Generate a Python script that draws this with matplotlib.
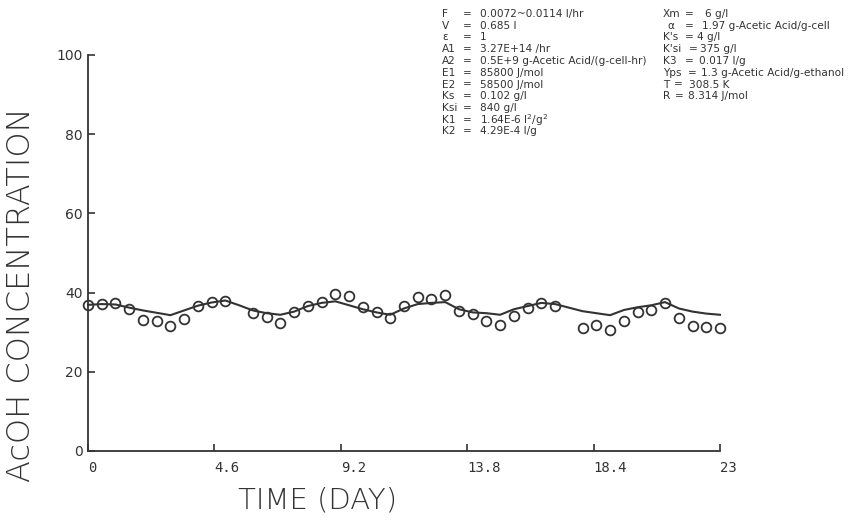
import matplotlib
matplotlib.use("Agg")
import matplotlib.pyplot as plt
import numpy as np

# measured AcOH concentration (g/l) every half day, gaps at 5.5 and 17.5
obs_time = [0, 0.5, 1, 1.5, 2, 2.5, 3, 3.5, 4, 4.5, 5,
            6, 6.5, 7, 7.5, 8, 8.5, 9, 9.5, 10, 10.5, 11, 11.5,
            12, 12.5, 13, 13.5, 14, 14.5, 15, 15.5, 16, 16.5, 17,
            18, 18.5, 19, 19.5, 20, 20.5, 21, 21.5, 22, 22.5, 23]
obs_conc = [36.9, 37.1, 37.3, 35.8, 33.1, 32.9, 31.6, 33.3, 36.7, 37.6, 38.0,
            34.9, 33.9, 32.2, 35.0, 36.7, 37.7, 39.6, 39.1, 36.3, 35.0, 33.7, 36.6,
            39.0, 38.3, 39.4, 35.4, 34.5, 32.8, 31.8, 34.1, 36.0, 37.3, 36.7,
            31.0, 31.8, 30.6, 32.8, 35.0, 35.6, 37.3, 33.7, 31.6, 31.4, 31.0]

# simulated curve
sim_time = [0, 0.5, 1, 1.5, 2, 2.5, 3, 3.5, 4, 4.5, 5, 5.5, 6, 6.5, 7, 7.5,
            8, 8.5, 9, 9.5, 10, 10.5, 11, 11.5, 12, 12.5, 13, 13.5, 14, 14.5,
            15, 15.5, 16, 16.5, 17, 17.5, 18, 18.5, 19, 19.5, 20, 20.5, 21,
            21.5, 22, 22.5, 23]
sim_conc = [36.9, 37.1, 37.0, 36.2, 35.5, 34.9, 34.3, 35.5, 36.7, 37.5, 38.0,
            36.8, 35.5, 34.8, 34.4, 35.2, 36.6, 37.4, 37.8, 36.8, 35.8, 35.0,
            34.4, 36.0, 37.1, 37.4, 37.6, 35.8, 35.0, 34.8, 34.4, 35.8, 36.6,
            37.4, 37.1, 36.2, 35.3, 34.8, 34.3, 35.6, 36.3, 36.8, 37.6, 36.0,
            35.2, 34.7, 34.4]

x_ticks = [0, 4.6, 9.2, 13.8, 18.4, 23]
x_ticklabels = ["0", "4.6", "9.2", "13.8", "18.4", "23"]
y_ticks = [0, 20, 40, 60, 80, 100]

left_labels = ["F", "V", "\u03b5", "A1", "A2", "E1", "E2", "Ks", "Ksi", "K1", "K2"]
left_values = ["0.0072~0.0114 l/hr", "0.685 l", "1", "3.27E+14 /hr",
               "0.5E+9 g-Acetic Acid/(g-cell-hr)", "85800 J/mol", "58500 J/mol",
               "0.102 g/l", "840 g/l", "1.64E-6 l$^2$/g$^2$", "4.29E-4 l/g"]
right_labels = ["Xm", "\u03b1", "K's", "K'si", "K3", "Yps", "T", "R"]
right_values = ["6 g/l", "1.97 g-Acetic Acid/g-cell", "4 g/l", "375 g/l",
                "0.017 l/g", "1.3 g-Acetic Acid/g-ethanol", "308.5 K",
                "8.314 J/mol"]
# x pixel positions of label, "=" and value in the right column
right_cols = [(663, 685, 705), (667, 685, 702), (663, 685, 697),
              (663, 689, 700), (663, 685, 699), (663, 688, 701),
              (663, 674, 689), (663, 675, 688)]

ink = "#333333"
W, H = 852, 521

fig = plt.figure(figsize=(W / 100, H / 100), dpi=100)
ax = fig.add_axes([88 / W, 1 - 451 / H, (720 - 88) / W, (451 - 55) / H])

ax.plot(sim_time, sim_conc, color=ink, lw=1.5, clip_on=False)
ax.plot(obs_time, obs_conc, ls="none", marker="o", ms=7, mfc="none",
        mec=ink, mew=1.3, clip_on=False)

ax.set_xlim(0, 23)
ax.set_ylim(0, 100)
for s in ["top", "right"]:
    ax.spines[s].set_visible(False)
for s in ["left", "bottom"]:
    ax.spines[s].set_color(ink)
    ax.spines[s].set_linewidth(1.3)

ax.set_xticks(x_ticks)
ax.set_xticklabels(x_ticklabels, ha="left")
ax.set_yticks(y_ticks)
ax.tick_params(direction="in", length=5, width=1.2, color=ink,
               labelcolor=ink, labelsize=10)
ax.tick_params(axis="x", pad=7)
ax.tick_params(axis="y", pad=4)
for lab in ax.get_xticklabels():
    lab.set_family("DejaVu Sans Mono")

fig.text(318 / W, 1 - 500 / H, "TIME (DAY)", ha="center", va="center",
         fontsize=21, color=ink, fontweight="light")
fig.text(21 / W, 1 - 295 / H, "AcOH CONCENTRATION", ha="center", va="center",
         rotation=90, fontsize=23, color=ink, fontweight="light")

# parameter block
line_h = 11.75
fs = 7.6
for i, (lab, val) in enumerate(zip(left_labels, left_values)):
    y = 1 - (14 + i * line_h) / H
    fig.text(442 / W, y, lab, fontsize=fs, color=ink, va="center")
    fig.text(463 / W, y, "=", fontsize=fs, color=ink, va="center")
    fig.text(480 / W, y, val, fontsize=fs, color=ink, va="center")
for i, (lab, val) in enumerate(zip(right_labels, right_values)):
    y = 1 - (14 + i * line_h) / H
    xl, xe, xv = right_cols[i]
    fig.text(xl / W, y, lab, fontsize=fs, color=ink, va="center")
    fig.text(xe / W, y, "=", fontsize=fs, color=ink, va="center")
    fig.text(xv / W, y, val, fontsize=fs, color=ink, va="center")

fig.savefig("out.png", dpi=100)
